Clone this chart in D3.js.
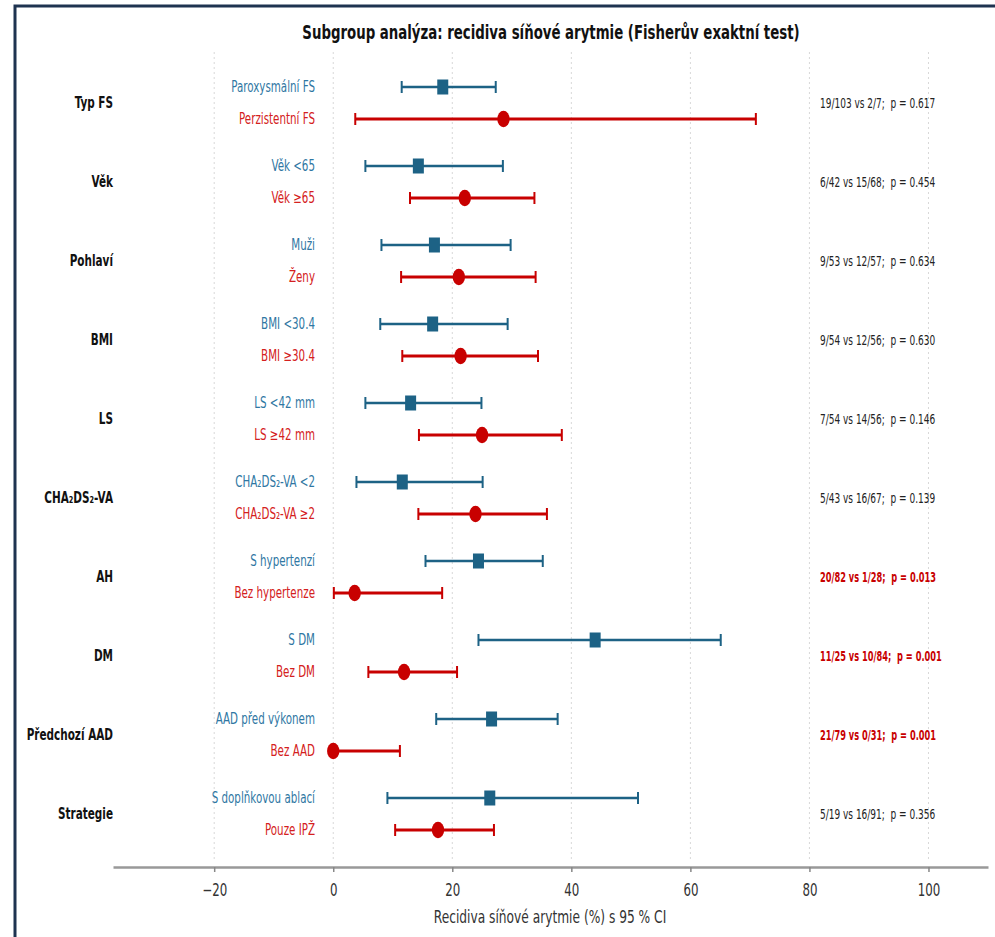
<!DOCTYPE html>
<html>
<head>
<meta charset="utf-8">
<script src="https://cdn.jsdelivr.net/npm/d3@7"></script>
<style>
  body { margin: 0; background: #fff; }
  svg { display: block; font-family: "DejaVu Sans Condensed", "DejaVu Sans", sans-serif; }
</style>
</head>
<body>
<div id="chart"></div>
<script>
// Skupiny a podskupiny
const groups = ['Typ FS', 'Věk', 'Pohlaví', 'BMI', 'LS', 'CHA₂DS₂-VA', 'AH', 'DM', 'Předchozí AAD', 'Strategie'];
const labelsA = ['Paroxysmální FS', 'Věk <65', 'Muži', 'BMI <30.4', 'LS <42 mm', 'CHA₂DS₂-VA <2', 'S hypertenzí', 'S DM', 'AAD před výkonem', 'S doplňkovou ablací'];
const labelsB = ['Perzistentní FS', 'Věk ≥65', 'Ženy', 'BMI ≥30.4', 'LS ≥42 mm', 'CHA₂DS₂-VA ≥2', 'Bez hypertenze', 'Bez DM', 'Bez AAD', 'Pouze IPŽ'];

// Recidiva (%) a 95% CI
const estA = [18.4, 14.3, 17.0, 16.7, 13.0, 11.6, 24.4, 44.0, 26.6, 26.3];
const lowA = [11.5, 5.4, 8.1, 7.9, 5.4, 3.9, 15.5, 24.4, 17.3, 9.1];
const highA = [27.3, 28.5, 29.8, 29.3, 24.9, 25.1, 35.2, 65.1, 37.7, 51.2];
const estB = [28.6, 22.1, 21.1, 21.4, 25.0, 23.9, 3.6, 11.9, 0.0, 17.6];
const lowB = [3.7, 12.9, 11.4, 11.6, 14.4, 14.3, 0.1, 5.9, 0.0, 10.4];
const highB = [71.0, 33.8, 34.0, 34.4, 38.4, 35.9, 18.3, 20.8, 11.2, 27.0];

// Texty vpravo
const counts = ['19/103 vs 2/7', '6/42 vs 15/68', '9/53 vs 12/57', '9/54 vs 12/56', '7/54 vs 14/56', '5/43 vs 16/67', '20/82 vs 1/28', '11/25 vs 10/84', '21/79 vs 0/31', '5/19 vs 16/91'];
const pValues = [0.617, 0.454, 0.634, 0.630, 0.146, 0.139, 0.013, 0.001, 0.001, 0.356];
const ticks = [-20, 0, 20, 40, 60, 80, 100];

const width = 995, height = 937;
const blue = '#1d6285', blueText = '#2f77a3', red = '#c80000';

const svg = d3.select('#chart').append('svg')
  .attr('width', width)
  .attr('height', height);

// uzky text (puvodni font je Calibri, uzsi nez DejaVu)
const at = (x, y, sx) => `translate(${x},${y}) scale(${sx},1)`;

// Ramecek
svg.append('rect')
  .attr('x', 15).attr('y', 6)
  .attr('width', 1000).attr('height', 1000)
  .attr('fill', 'none')
  .attr('stroke', '#1e3350')
  .attr('stroke-width', 3);

const x = d3.scaleLinear().domain([-37, 110]).range([113, 988]);
const y = d3.scaleBand().domain(groups).range([63.5, 853.5]);
const yc = g => y(g) + y.bandwidth() / 2;
const off = 16;

// Titulek
svg.append('text')
  .attr('transform', at(551, 39, 0.78))
  .attr('text-anchor', 'middle')
  .style('font-size', '19px')
  .style('font-weight', 'bold')
  .attr('fill', '#111')
  .text('Subgroup analýza: recidiva síňové arytmie (Fisherův exaktní test)');

// Mrizka
svg.append('g').selectAll('line')
  .data(ticks)
  .join('line')
  .attr('x1', d => x(d)).attr('x2', d => x(d))
  .attr('y1', 52).attr('y2', 862)
  .attr('stroke', '#d8d8d8')
  .attr('stroke-dasharray', '2,3');

// Osa x
const axis = svg.append('g')
  .attr('transform', 'translate(0,867)')
  .call(d3.axisBottom(x).tickValues(ticks).tickSizeInner(5).tickSizeOuter(0).tickPadding(12).tickFormat(d3.format('d')));
axis.select('.domain').attr('stroke', '#999').attr('stroke-width', 2.5);
axis.selectAll('.tick line').attr('stroke', '#888').attr('stroke-width', 1.5);
axis.selectAll('text')
  .style('font-size', '17.5px')
  .style('font-family', '"DejaVu Sans Condensed", "DejaVu Sans", sans-serif')
  .attr('transform', 'scale(0.75,1)')
  .attr('fill', '#333');

svg.append('text')
  .attr('transform', at(550, 923, 0.8))
  .attr('text-anchor', 'middle')
  .style('font-size', '17px')
  .attr('fill', '#333')
  .text('Recidiva síňové arytmie (%) s 95 % CI');

// Data po radcich
const rows = groups.map((g, i) => ({
  g, i,
  a: { label: labelsA[i], est: estA[i], lo: lowA[i], hi: highA[i], y: yc(g) - off },
  b: { label: labelsB[i], est: estB[i], lo: lowB[i], hi: highB[i], y: yc(g) + off }
}));

// Nazvy skupin
svg.append('g').selectAll('text')
  .data(rows)
  .join('text')
  .attr('transform', d => at(113, yc(d.g), 0.75))
  .attr('dy', '0.35em')
  .attr('text-anchor', 'end')
  .style('font-size', '15.5px')
  .style('font-weight', 'bold')
  .attr('fill', '#111')
  .text(d => d.g);

function drawSeries(key, color, textColor, lw) {
  const data = rows.map(r => r[key]);
  const gg = svg.append('g');
  gg.selectAll('text')
    .data(data)
    .join('text')
    .attr('transform', d => at(315, d.y, 0.74))
    .attr('dy', '0.35em')
    .attr('text-anchor', 'end')
    .style('font-size', '15.5px')
    .attr('fill', textColor)
    .text(d => d.label);
  gg.selectAll('line.ci')
    .data(data)
    .join('line')
    .attr('class', 'ci')
    .attr('x1', d => x(d.lo)).attr('x2', d => x(d.hi))
    .attr('y1', d => d.y).attr('y2', d => d.y)
    .attr('stroke', color).attr('stroke-width', lw);
  ['lo', 'hi'].forEach(k => {
    gg.selectAll('line.cap-' + k)
      .data(data)
      .join('line')
      .attr('class', 'cap-' + k)
      .attr('x1', d => x(d[k])).attr('x2', d => x(d[k]))
      .attr('y1', d => d.y - 6).attr('y2', d => d.y + 6)
      .attr('stroke', color).attr('stroke-width', 2);
  });
  return gg.selectAll('.marker').data(data);
}

drawSeries('a', blue, blueText, 2.5)
  .join('rect')
  .attr('class', 'marker')
  .attr('x', d => x(d.est) - 5.5).attr('y', d => d.y - 7.5)
  .attr('width', 11).attr('height', 15)
  .attr('fill', blue);

drawSeries('b', red, '#d42020', 3)
  .join('ellipse')
  .attr('class', 'marker')
  .attr('cx', d => x(d.est)).attr('cy', d => d.y)
  .attr('rx', 6.2).attr('ry', 8.2)
  .attr('fill', red);

// Vysledky testu
svg.append('g').selectAll('text')
  .data(rows)
  .join('text')
  .attr('transform', d => at(820, yc(d.g), pValues[d.i] < 0.05 ? 0.67 : 0.73))
  .attr('dy', '0.35em')
  .style('font-size', '13.7px')
  .style('font-weight', d => pValues[d.i] < 0.05 ? 'bold' : 'normal')
  .attr('fill', d => pValues[d.i] < 0.05 ? red : '#222')
  .attr('xml:space', 'preserve')
  .style('white-space', 'pre')
  .text(d => counts[d.i] + ';  p = ' + pValues[d.i].toFixed(3));
</script>
</body>
</html>
